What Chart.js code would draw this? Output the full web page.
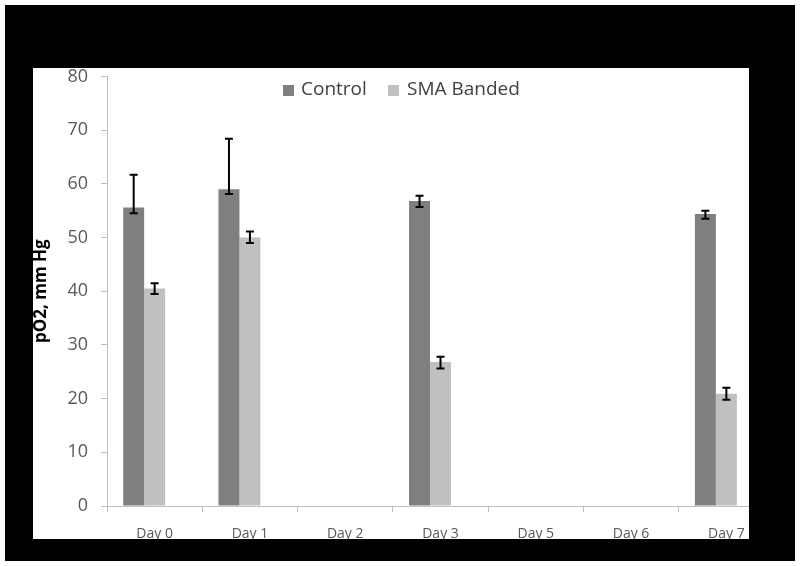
<!DOCTYPE html>
<html>
<head>
<meta charset="utf-8">
<script src="https://cdn.jsdelivr.net/npm/chart.js@4.4.0/dist/chart.umd.min.js"></script>
<style>
  html, body { margin: 0; padding: 0; background: #ffffff; }
  #frame { position: absolute; left: 5px; top: 5px; width: 790px; height: 556px; background: #000; }
  #plot { position: absolute; left: 33px; top: 68px; width: 716px; height: 471px; background: #fff; overflow: hidden; }
  #plot canvas { position: absolute; left: 0; top: -5px; }
  .leg { position: absolute; top: 79px; font-family: "Open Sans", sans-serif; font-size: 19px; line-height: 19px; color: #404040; white-space: nowrap; }
  .box { position: absolute; top: 85px; width: 11px; height: 11px; }
</style>
</head>
<body>
<div id="frame"></div>
<div id="plot"><canvas id="c" width="780" height="476"></canvas></div>
<div class="box" style="left:283px;background:#7f7f7f"></div>
<div class="leg" style="left:301px">Control</div>
<div class="box" style="left:388px;background:#c0c0c0"></div>
<div class="leg" style="left:407px">SMA Banded</div>
<script>
const categories = ["Day 0", "Day 1", "Day 2", "Day 3", "Day 5", "Day 6", "Day 7"];
const controlValues = [55.6, 59.0, null, 56.8, null, null, 54.4];
const controlErrHigh = [61.7, 68.4, null, 57.8, null, null, 55.0];
const controlErrLow = [54.5, 58.1, null, 55.7, null, null, 53.5];
const smaValues = [40.5, 50.0, null, 26.8, null, null, 20.9];
const smaErrHigh = [41.5, 51.1, null, 27.8, null, null, 22.0];
const smaErrLow = [39.5, 49.0, null, 25.6, null, null, 19.8];
const emptySlot = [null, null, null, null, null, null, null];
const yTicks = [0, 10, 20, 30, 40, 50, 60, 70, 80];

const errorSets = [
  { high: controlErrHigh, low: controlErrLow },
  { high: smaErrHigh, low: smaErrLow }
];

const errorBarPlugin = {
  id: 'errorBars',
  afterDatasetsDraw(chart) {
    const ctx = chart.ctx;
    const y = chart.scales.y;
    ctx.save();
    ctx.strokeStyle = '#000';
    ctx.lineWidth = 2;
    errorSets.forEach((es, di) => {
      const meta = chart.getDatasetMeta(di);
      meta.data.forEach((bar, i) => {
        if (es.high[i] == null) return;
        const x = bar.x;
        const yh = y.getPixelForValue(es.high[i]);
        const yl = y.getPixelForValue(es.low[i]);
        ctx.beginPath();
        ctx.moveTo(x, yh); ctx.lineTo(x, yl);
        ctx.moveTo(x - 4, yh); ctx.lineTo(x + 4, yh);
        ctx.moveTo(x - 4, yl); ctx.lineTo(x + 4, yl);
        ctx.stroke();
      });
    });
    ctx.restore();
  }
};

new Chart(document.getElementById('c'), {
  type: 'bar',
  data: {
    labels: categories,
    datasets: [
      { label: 'Control', data: controlValues, backgroundColor: '#7f7f7f', borderWidth: 0 },
      { label: 'SMA Banded', data: smaValues, backgroundColor: '#c0c0c0', borderWidth: 0 },
      { label: '', data: emptySlot, backgroundColor: 'rgba(0,0,0,0)', borderWidth: 0 }
    ]
  },
  options: {
    responsive: false,
    devicePixelRatio: 1,
    animation: false,
    datasets: { bar: { categoryPercentage: 0.66, barPercentage: 1.0 } },
    layout: { padding: { left: 0, top: 2, right: 39, bottom: 0 } },
    plugins: { legend: { display: false }, tooltip: { enabled: false } },
    scales: {
      x: {
        grid: { display: true, drawOnChartArea: false, drawTicks: true, tickLength: 6, color: '#bfbfbf', offset: true },
        border: { color: '#bfbfbf', width: 1 },
        ticks: { color: '#595959', font: { family: 'Open Sans', size: 14 }, padding: 14, maxRotation: 0, autoSkip: false },
        afterFit(scale) { scale.height = 33; }
      },
      y: {
        min: 0, max: 80,
        afterBuildTicks(scale) { scale.ticks = yTicks.map(v => ({ value: v })); },
        grid: { display: true, drawOnChartArea: false, drawTicks: true, tickLength: 6, color: '#bfbfbf' },
        border: { color: '#bfbfbf', width: 1 },
        ticks: { color: '#595959', font: { family: 'Open Sans', size: 18, lineHeight: 0.05 }, padding: 13 },
        title: { display: true, text: 'pO2, mm Hg', color: '#000', font: { family: 'Open Sans', size: 17, weight: 'bold', lineHeight: 1 }, padding: 0 },
        afterFit(scale) { scale.width = 74; }
      }
    }
  },
  plugins: [errorBarPlugin]
});
</script>
</body>
</html>
